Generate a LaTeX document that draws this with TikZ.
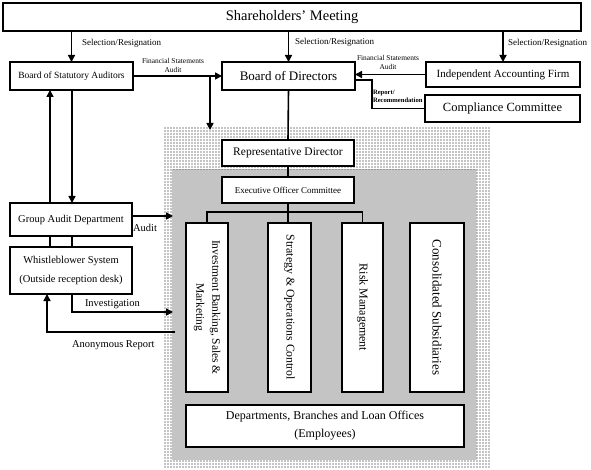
\documentclass[tikz,border=0pt]{standalone}
\usepackage{fontspec}
\setmainfont{Liberation Serif}
\usetikzlibrary{arrows.meta,patterns.meta}
\begin{document}
\begin{tikzpicture}[x=1pt,y=-1pt,
  box/.style={draw,line width=2pt,fill=white,inner sep=0pt,outer sep=0pt,align=center},
  conn/.style={line width=1.6pt},
  arr/.style={conn,-{Triangle[length=7pt,width=7pt]}},
  lbl/.style={inner sep=0pt,outer sep=0pt},
  fs/.style={font=\fontsize{#1}{#1}\selectfont},
]
\useasboundingbox (0,0) rectangle (591,470);
\fill[white] (0,0) rectangle (591,470);
% dotted backgrounds
\path[pattern={Dots[distance=3pt,radius=0.7pt]}] (163,128) rectangle (490,467);
\fill[white] (172,170) rectangle (476,459);
\path[pattern={Dots[distance=2pt,radius=0.62pt]}] (172,170) rectangle (476,459);

% boxes
\node[box,minimum width=578,minimum height=28,fs=14.5] (sh) at (292,17) {Shareholders’ Meeting};
\node[box,minimum width=123,minimum height=28,fs=9.5] (aud) at (71.5,76) {Board of Statutory Auditors};
\node[box,minimum width=133,minimum height=28,fs=13] (bod) at (288.5,76) {Board of Directors};
\node[box,minimum width=154,minimum height=25,fs=11] (acc) at (503,74.5) {Independent Accounting Firm};
\node[box,minimum width=155,minimum height=27,fs=12.5] (cc) at (502.5,108.5) {Compliance Committee};
\node[box,minimum width=132,minimum height=26,fs=11.5] (rep) at (288,153) {Representative Director};
\node[box,minimum width=132,minimum height=26,fs=9] (exe) at (288,190) {Executive Officer Committee};
\node[box,minimum width=122,minimum height=33,fs=10.5] (ga) at (71,219.5) {Group Audit Department};
\node[box,minimum width=122,minimum height=47,font=\fontsize{10.5}{19}\selectfont] (wb) at (71,270.5) {Whistleblower System\\(Outside reception desk)};
\node[box,minimum width=42,minimum height=169] (c1) at (207,307.5) {};
\node[box,minimum width=43,minimum height=169] (c2) at (289.5,307.5) {};
\node[box,minimum width=41,minimum height=169] (c3) at (362.5,307.5) {};
\node[box,minimum width=54,minimum height=169] (c4) at (437,307.5) {};
\node[box,minimum width=278,minimum height=42,font=\fontsize{12}{18}\selectfont] (dep) at (325,426) {Departments, Branches and Loan Offices\\(Employees)};

% column texts
\node[lbl,rotate=-90,align=center,font=\fontsize{11.5}{16}\selectfont] (c1t) at (c1) {Investment Banking, Sales \&\\Marketing};
\node[lbl,rotate=-90,fs=11.8] (c2t) at (c2) {Strategy \& Operations Control};
\node[lbl,rotate=-90,fs=12] (c3t) at (c3) {Risk Management};
\node[lbl,rotate=-90,fs=13] (c4t) at (c4) {Consolidated Subsidiaries};

% free ends
\coordinate (fsdown) at (210,130);
\coordinate (lx) at (50,0);
\coordinate (rx) at (72,0);
\coordinate (ax) at (47,0);
\coordinate (auditend) at (173,216);
\coordinate (invend) at (173,312);
\coordinate (anonstart) at (175,332);

% connectors
\draw[arr] (aud.north |- sh.south) -- (aud.north);
\draw[arr] (bod.north |- sh.south) -- (bod.north);
\draw[arr] (acc.north |- sh.south) -- (acc.north);
\draw[arr] (aud.east) -- (bod.west);
\draw[arr] (fsdown |- aud.east) -- (fsdown);
\draw[arr] (acc.west) -- (acc.west -| bod.east);
\draw[conn] ([yshift=-4pt]bod.east) -- ++(17,0) |- (cc.west);
\draw[conn] (bod.south) -- (rep.north);
\draw[conn] (rep.south) -- (exe.north);
\draw[conn] (exe.south) -- (exe.south |- c2.north);
\draw[conn] (c1.north) -- ++(0,-11) -| (c3.north);
\draw[arr] (ga.north -| lx) -- (aud.south -| lx);
\draw[arr] (aud.south -| rx) -- (ga.north -| rx);
\draw[conn] (ga.south -| lx) -- (wb.north -| lx);
\draw[conn] (ga.south -| rx) -- (wb.north -| rx);
\draw[arr] (ga.east |- auditend) -- (auditend);
\draw[arr] (wb.south -| rx) |- (invend);
\draw[arr] (anonstart) -| (wb.south -| ax);

% labels
\node[lbl,anchor=west,fs=9] (l1) at (82,43) {Selection/Resignation};
\node[lbl,anchor=west,fs=9] (l2) at (295,42) {Selection/Resignation};
\node[lbl,anchor=west,fs=9] (l3) at (508,43) {Selection/Resignation};
\node[lbl,align=center,font=\fontsize{7.4}{9}\selectfont] (l4) at (173,65.5) {Financial Statements\\Audit};
\node[lbl,align=center,font=\fontsize{7.4}{9}\selectfont] (l5) at (388,62) {Financial Statements\\Audit};
\node[lbl,anchor=west,align=left,font=\fontsize{6.6}{7.5}\selectfont\bfseries] (l6) at (373,96.5) {Report/\\Recommendation};
\node[lbl,anchor=west,fs=10.5] (l7) at (133,228) {Audit};
\node[lbl,anchor=west,fs=10.5] (l8) at (85,304) {Investigation};
\node[lbl,anchor=west,fs=10.5] (l9) at (72,345) {Anonymous Report};
\end{tikzpicture}
\end{document}
